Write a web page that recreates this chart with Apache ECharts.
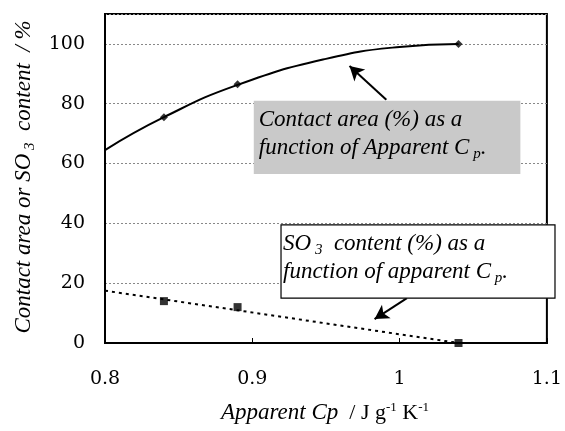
<!DOCTYPE html>
<html>
<head>
<meta charset="utf-8">
<script src="https://cdn.jsdelivr.net/npm/echarts@6/dist/echarts.min.js"></script>
<style>
html,body{margin:0;padding:0;background:#fff;}
#chart{width:565px;height:431px;}
</style>
</head>
<body>
<div id="chart"></div>
<script>
// measured points (apparent Cp, %)
var cpPoints = [0.84, 0.89, 1.04];
var contactArea = [75.5, 86.5, 100];
var so3Content = [14, 12, 0];
// fitted curve / trend line
var contactCurveX = [0.80, 0.84, 0.89, 0.95, 1.00, 1.04];
var contactCurveY = [64.5, 75.5, 86.3, 95.0, 99.0, 100];
var so3TrendX = [0.80, 1.04];
var so3TrendY = [17.5, 0];
var xTicks = [0.8, 0.9, 1, 1.1];
var yTicks = [0, 20, 40, 60, 80, 100];

function pairs(xs, ys){
	var out = [];
	for(var i=0;i<xs.length;i++){
		out.push([xs[i], ys[i]]);
	}
	return out;
}

var serif = '"Liberation Serif", "DejaVu Serif", serif';
var tickFont = '"DejaVu Serif", serif';
var myChart = echarts.init(document.getElementById("chart"));
var option = {
	backgroundColor: '#fff',
	animation: false,
	grid: {
		left: 105, right: 18, top: 14, bottom: 88,
		show: true, borderColor: '#000', borderWidth: 2
	},
	xAxis: {
		type: 'value', min: 0.8, max: 1.1, interval: 0.1,
		axisLine: {show: true, onZero: false, lineStyle: {color: '#000', width: 2}},
		axisTick: {show: true, inside: true, length: 5, lineStyle: {color: '#000'}},
		splitLine: {show: false},
		axisLabel: {
			fontFamily: tickFont, fontSize: 19, color: '#000', margin: 27,
			formatter: function(v){
				for(var i=0;i<xTicks.length;i++){
					if(Math.abs(v-xTicks[i])<1e-6) return String(xTicks[i]);
				}
				return '';
			}
		}
	},
	yAxis: {
		type: 'value', min: 0, max: 110, interval: 20,
		axisLine: {show: true, lineStyle: {color: '#000', width: 2}},
		axisTick: {show: false},
		splitLine: {show: true, lineStyle: {color: '#888', type: [2, 2], width: 1}},
		axisLabel: {
			fontFamily: tickFont, fontSize: 19, color: '#000', margin: 20,
			formatter: function(v){ return yTicks.indexOf(v) >= 0 ? String(v) : ''; }
		}
	},
	series: [
		{
			type: 'line', data: pairs(contactCurveX, contactCurveY), smooth: true,
			showSymbol: false, lineStyle: {color: '#000', width: 2}, z: 3
		},
		{
			type: 'scatter', data: pairs(cpPoints, contactArea),
			symbol: 'diamond', symbolSize: 8, itemStyle: {color: '#000'}, z: 4
		},
		{
			type: 'line', data: pairs(so3TrendX, so3TrendY),
			showSymbol: false, lineStyle: {color: '#000', width: 2, type: [3, 4]}, z: 3
		},
		{
			type: 'scatter', data: pairs(cpPoints, so3Content),
			symbol: 'rect', symbolSize: 8, itemStyle: {color: '#000'}, z: 4,
			markLine: {
				silent: true, symbol: ['none', 'arrow'], symbolSize: [12, 14],
				label: {show: false},
				lineStyle: {color: '#000', width: 2, type: 'solid'},
				data: [
					[{coord: [0.991, 81.3]}, {coord: [0.966, 92.6]}],
					[{coord: [1.005, 15]}, {coord: [0.983, 8]}]
				]
			}
		}
	]
};
myChart.setOption(option);

// annotation boxes and axis titles
var boxA = myChart.convertToPixel({gridIndex: 0}, [0.901, 81]);
var boxA2 = myChart.convertToPixel({gridIndex: 0}, [1.082, 56.5]);
var boxB = myChart.convertToPixel({gridIndex: 0}, [0.9195, 39.5]);
var boxB2 = myChart.convertToPixel({gridIndex: 0}, [1.1055, 15]);
var richIt = {
	it: {fontFamily: serif, fontStyle: 'italic', fontSize: 23, color: '#000'},
	sub: {fontFamily: serif, fontStyle: 'italic', fontSize: 15, color: '#000', padding: [12, 0, 0, 0]},
	rm: {fontFamily: serif, fontSize: 22, color: '#000'},
	sup: {fontFamily: serif, fontSize: 13, color: '#000', padding: [0, 0, 11, 0]}
};
myChart.setOption({
	graphic: [
		{
			type: 'rect', z: 10,
			shape: {x: boxA[0], y: boxA[1], width: boxA2[0]-boxA[0], height: boxA2[1]-boxA[1]},
			style: {fill: '#c9c9c9', stroke: null}
		},
		{
			type: 'text', z: 11, x: boxA[0]+5, y: boxA[1]+5,
			style: {
				text: '{it|Contact area (%) as a}\n{it|function of Apparent C}{sub| p}{it|.}',
				rich: richIt, lineHeight: 28
			}
		},
		{
			type: 'rect', z: 10,
			shape: {x: boxB[0], y: boxB[1], width: boxB2[0]-boxB[0], height: boxB2[1]-boxB[1]},
			style: {fill: '#fff', stroke: '#000', lineWidth: 1.2}
		},
		{
			type: 'text', z: 11, x: boxB[0]+2, y: boxB[1]+5,
			style: {
				text: '{it|SO}{sub| 3}{it|  content (%) as a}\n{it|function of apparent C}{sub| p}{it|.}',
				rich: richIt, lineHeight: 28
			}
		},
		{
			type: 'text', z: 11, x: 24, y: 177, rotation: Math.PI/2,
			style: {
				text: '{it|Contact area or SO}{sub| 3}{it|  content  / %}',
				rich: richIt, align: 'center', verticalAlign: 'middle'
			}
		},
		{
			type: 'text', z: 11, x: 325, y: 413,
			style: {
				text: '{it|Apparent Cp}{rm|  / J g}{sup|-1}{rm| K}{sup|-1}',
				rich: richIt, align: 'center', verticalAlign: 'middle'
			}
		}
	]
});
</script>
</body>
</html>
